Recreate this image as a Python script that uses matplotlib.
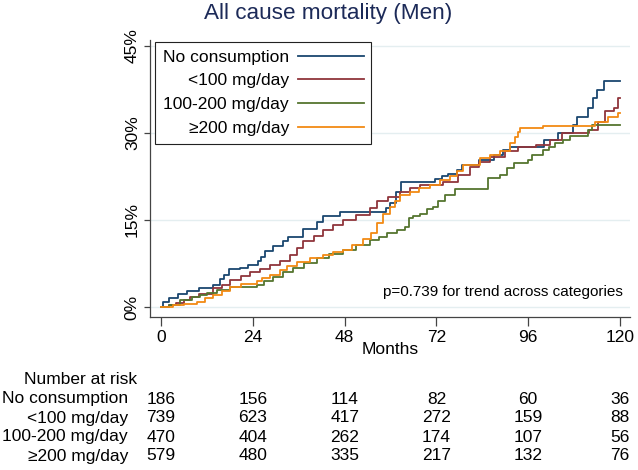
import matplotlib
matplotlib.use('Agg')
import matplotlib.pyplot as plt
import matplotlib.transforms as mtransforms

plt.rcParams['font.family'] = ['Liberation Sans', 'DejaVu Sans']

# Kaplan-Meier style cumulative mortality (%)
no_cons_t = [0, 0.6, 2.2, 4.5, 6.9, 9.8, 13.5, 15.4, 16.5, 17.9, 20.6, 22.8, 25.4, 26.2, 27.2,
             29.4, 32.0, 33.3, 37.0, 40.7, 42.4, 46.8, 58.8, 59.9, 61.5, 62.7, 71.6, 73.5, 75.0,
             77.3, 78.6, 83.0, 87.0, 89.5, 91.2, 100.0, 103.9, 107.8, 108.7, 111.7, 113.0,
             113.9, 115.8, 120]
no_cons_y = [0, 0.9, 1.5, 2.2, 2.8, 3.3, 3.8, 4.8, 5.5, 6.5, 6.8, 7.2, 8.0, 8.7, 9.7,
             10.5, 11.4, 12.1, 13.4, 14.7, 15.6, 16.3, 17.0, 18.0, 19.8, 21.6, 22.0, 22.6, 23.0,
             23.6, 24.5, 25.3, 26.2, 27.0, 27.5, 28.8, 29.9, 31.4, 32.8, 34.3, 36.0,
             37.4, 39.0, 39.0]

lt100_t = [0, 2, 4, 6, 7.6, 10, 13.7, 16, 18, 21, 23.3, 26, 28.5, 31, 33.7, 35.5, 37.2, 40,
           42.4, 45, 47.7, 51, 54.6, 56.4, 59.4, 62.5, 65, 67.7, 73.8, 77.7, 80.8, 83, 86, 90,
           93.4, 98, 101.7, 104.8, 112, 114.3, 116, 118.3, 119.5, 120]
lt100_y = [0, 0.4, 0.7, 1.2, 1.7, 2.3, 3.2, 3.8, 4.7, 5.4, 6.1, 6.6, 7.2, 8.0, 9.0, 10.2, 11.3, 12.3,
           13.3, 14.2, 15.0, 15.8, 17.0, 18.2, 19.0, 19.9, 20.5, 21.0, 21.6, 22.8, 24.2, 25.0, 25.9, 26.8,
           27.6, 27.9, 28.8, 29.9, 30.5, 31.9, 33.7, 34.3, 36.0, 36.0]

mid_t = [0, 2, 5, 8, 10.2, 12, 14.6, 18, 25, 27, 29.4, 32, 34.6, 37.5, 40.7, 44, 47.7, 51, 54.6,
         57, 59, 61.6, 63.8, 64.7, 66, 67.7, 69.5, 71.2, 72.5, 74.2, 76.9, 85.6, 88.6, 90.4, 92.2,
         96, 96.9, 99.9, 101.5, 103, 105, 106.9, 111.7, 112.6, 120]
mid_y = [0, 0.4, 1.2, 1.7, 2.1, 2.5, 2.9, 3.5, 3.8, 4.5, 5.2, 6.0, 6.7, 7.5, 8.4, 9.2, 9.8, 10.6, 11.6,
         12.1, 12.7, 13.3, 13.8, 15.3, 15.7, 16.1, 16.8, 17.3, 18.2, 19.3, 20.3, 22.2, 22.8, 23.9, 24.8,
         25.3, 26.2, 27.1, 27.6, 28.2, 28.8, 29.4, 30.5, 31.4, 31.4]

ge200_t = [0, 3.2, 6, 9.3, 11.5, 13.7, 16, 18, 21, 25, 26.5, 28.5, 31, 33, 35.5, 39, 42.4, 45, 47.7,
           50, 52.9, 55, 56.4, 58.1, 59.9, 61.2, 62.5, 65.1, 67.5, 70.3, 73, 75.6, 77.5, 79.0, 83.4,
           86, 88.6, 91.2, 92.5, 93.4, 93.9, 99.9, 113.5, 116.9, 119.5, 120]
ge200_y = [0, 0.3, 0.6, 0.9, 1.5, 2.1, 2.8, 3.5, 4.0, 4.4, 5.0, 5.5, 6.3, 7.0, 7.8, 8.4, 9.0, 9.4, 9.8,
           10.6, 11.8, 12.8, 14.4, 16.1, 17.3, 18.3, 19.3, 19.9, 20.5, 21.0, 21.8, 22.5, 23.5, 24.5, 25.6,
           26.2, 26.8, 28.2, 29.3, 30.2, 30.8, 31.1, 31.9, 32.8, 33.4, 33.4]

group_labels = ['No consumption', '<100 mg/day', '100-200 mg/day', '\u2265200 mg/day']
group_colors = ['#1a476f', '#90353b', '#55752f', '#f28a14']

risk_months = [0, 24, 48, 72, 96, 120]
risk_no_cons = [186, 156, 114, 82, 60, 36]
risk_lt100 = [739, 623, 417, 272, 159, 88]
risk_mid = [470, 404, 262, 174, 107, 56]
risk_ge200 = [579, 480, 335, 217, 132, 76]

y_ticks = [0, 15, 30, 45]

FS = 12.5

fig = plt.figure(figsize=(6.38, 4.70), dpi=100)
ax = fig.add_axes([150 / 638, 1 - 317 / 470, 480 / 638, 277 / 470])

series = [(no_cons_t, no_cons_y), (lt100_t, lt100_y), (mid_t, mid_y), (ge200_t, ge200_y)]
for (t, y), lab, col in zip(series, group_labels, group_colors):
    ax.step(t, y, where='post', color=col, lw=1.3, label=lab)

ax.set_xlim(-2.88, 122.6)
ax.set_ylim(-1.72, 46.0)
ax.set_xticks(risk_months)
ax.set_yticks(y_ticks)
ax.set_yticklabels(['%d%%' % v for v in y_ticks], rotation=90, va='center')
ax.tick_params(axis='x', length=6.5, width=0.9, color='#444444', labelsize=FS, pad=3)
ax.tick_params(axis='y', length=4.3, width=0.9, color='#444444', labelsize=FS, pad=3)
ax.yaxis.grid(True, color='#e4eef0', lw=1.0)
ax.set_axisbelow(True)

for side in ['top', 'right']:
    ax.spines[side].set_visible(False)
for side in ['left', 'bottom']:
    ax.spines[side].set_color('#444444')
    ax.spines[side].set_linewidth(0.9)

ax.set_xlabel('Months', fontsize=FS, labelpad=-2)

leg = ax.legend(loc='upper left', bbox_to_anchor=(0.0104, 0.994), borderaxespad=0,
                fontsize=FS, markerfirst=False, handlelength=3.75, labelspacing=0.5,
                fancybox=False, framealpha=1, edgecolor='#222222', borderpad=0.45,
                handletextpad=0.55)
leg.get_frame().set_linewidth(0.8)
for txt in leg.get_texts():
    txt.set_ha('right')
leg._legend_box.align = 'right'

ax.text(0.986, 0.092, 'p=0.739 for trend across categories', transform=ax.transAxes,
        ha='right', va='center', fontsize=11)

fig.text(328 / 638, 1 - 13 / 470, 'All cause mortality (Men)', ha='center', va='center',
         fontsize=16.2, color='#1c2a58')

# number at risk table
trans = mtransforms.blended_transform_factory(ax.transData, fig.transFigure)
fig.text(81 / 638, 1 - 380 / 470, 'Number at risk', ha='center', va='center', fontsize=FS)
rows_y = [399, 418, 437, 456]
for lab, counts, ry in zip(group_labels, [risk_no_cons, risk_lt100, risk_mid, risk_ge200], rows_y):
    fig.text(128 / 638, 1 - ry / 470, lab, ha='right', va='center', fontsize=FS)
    for m, c in zip(risk_months, counts):
        ax.text(m, 1 - ry / 470, str(c), transform=trans, ha='center', va='center', fontsize=FS,
                clip_on=False)

fig.savefig('out.png', dpi=100)
